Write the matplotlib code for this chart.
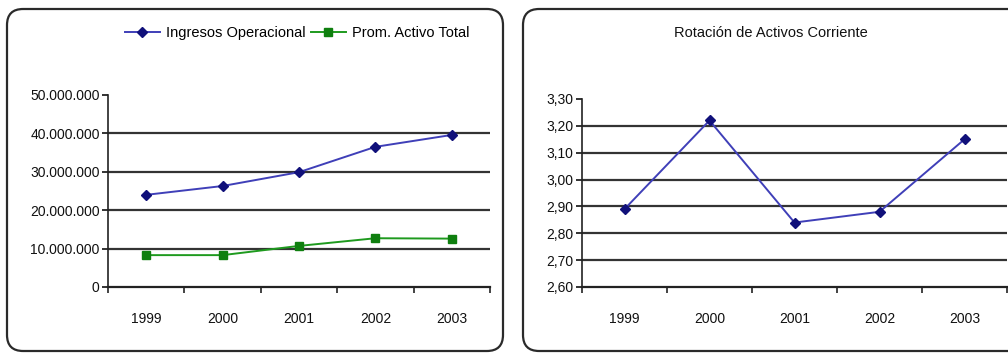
import matplotlib
matplotlib.use("Agg")
import matplotlib.pyplot as plt
from matplotlib.patches import FancyBboxPatch
from matplotlib.ticker import FuncFormatter, FixedLocator

plt.rcParams['font.family'] = ['Liberation Sans Narrow', 'Liberation Sans', 'DejaVu Sans']

years = ["1999", "2000", "2001", "2002", "2003"]
ingresos_operacional = [24_000_000, 26_300_000, 29_900_000, 36_500_000, 39_600_000]
prom_activo_total = [8_300_000, 8_300_000, 10_700_000, 12_700_000, 12_600_000]
rotacion_activos_corriente = [2.89, 3.22, 2.84, 2.88, 3.15]

W, H = 1008, 353
fig = plt.figure(figsize=(W / 100, H / 100), dpi=100)
fig.patch.set_facecolor("white")


def px_box(x0, y0, x1, y1):
    return [x0 / W, 1 - y1 / H, (x1 - x0) / W, (y1 - y0) / H]


# rounded chart frames
for x0, y0, x1, y1 in [(7, 9, 503, 351), (523, 9, 1030, 351)]:
    frame = FancyBboxPatch((x0 / W, 1 - y1 / H), (x1 - x0) / W, (y1 - y0) / H,
                           boxstyle="round,pad=0,rounding_size=0.016",
                           transform=fig.transFigure, facecolor="white",
                           edgecolor="#2a2a2a", linewidth=1.6, zorder=0,
                           mutation_aspect=W / H)
    fig.add_artist(frame)

grid_kw = dict(color="#333333", linewidth=1.6, zorder=1)
tick_fs = 10
x = list(range(len(years)))


def style_axes(ax, ymin, ymax, step, fmt):
    ax.set_facecolor("none")
    ax.set_xlim(-0.5, len(years) - 0.5)
    ax.set_ylim(ymin, ymax)
    for s in ("top", "right"):
        ax.spines[s].set_visible(False)
    ax.spines["left"].set_color("#222222")
    ax.spines["bottom"].set_color("#222222")
    ax.spines["left"].set_linewidth(1.2)
    ax.spines["bottom"].set_linewidth(1.6)
    n = int(round((ymax - ymin) / step))
    yt = [ymin + i * step for i in range(n + 1)]
    ax.yaxis.set_major_locator(FixedLocator(yt))
    ax.yaxis.set_major_formatter(FuncFormatter(fmt))
    for v in yt[1:-1]:
        ax.axhline(v, **grid_kw)
    ax.set_xticks(x)
    ax.set_xticklabels(years)
    ax.set_xticks([i - 0.5 for i in range(len(years) + 1)], minor=True)
    ax.tick_params(axis="x", which="major", length=0, pad=18, labelsize=tick_fs, colors="#111111")
    ax.tick_params(axis="x", which="minor", length=4, width=1.2, direction="out", color="#222222")
    ax.tick_params(axis="y", length=4, width=1.2, direction="out", labelsize=tick_fs, colors="#111111", pad=2)


def fmt_millions(v, pos):
    return f"{int(round(v)):,}".replace(",", ".")


def fmt_ratio(v, pos):
    return f"{v:.2f}".replace(".", ",")


# left: revenues vs average total assets
ax1 = fig.add_axes(px_box(108, 95, 490, 287))
style_axes(ax1, 0, 50_000_000, 10_000_000, fmt_millions)
l1, = ax1.plot(x, ingresos_operacional, color="#3f3fb8", linewidth=1.4,
               marker="D", markersize=5, markerfacecolor="#10107a",
               markeredgecolor="#10107a", zorder=3, label="Ingresos Operacional")
l2, = ax1.plot(x, prom_activo_total, color="#1e9a1e", linewidth=1.4,
               marker="s", markersize=6, markerfacecolor="#0f7f0f",
               markeredgecolor="#0f7f0f", zorder=3, label="Prom. Activo Total")
fig.legend(handles=[l1, l2], loc="center", bbox_to_anchor=(297 / W, 1 - 33 / H),
           ncol=2, frameon=False, fontsize=10.5, handlelength=2.4,
           columnspacing=0.4, handletextpad=0.4)

# right: current asset turnover
ax2 = fig.add_axes(px_box(582, 99, 1007, 287))
style_axes(ax2, 2.60, 3.30, 0.10, fmt_ratio)
ax2.plot(x, rotacion_activos_corriente, color="#3f3fb8", linewidth=1.4,
         marker="D", markersize=5, markerfacecolor="#10107a",
         markeredgecolor="#10107a", zorder=3)
fig.text(771 / W, 1 - 33 / H, "Rotación de Activos Corriente", ha="center",
         va="center", fontsize=10.5, color="#111111")

fig.savefig("out.png", dpi=100, facecolor="white")
